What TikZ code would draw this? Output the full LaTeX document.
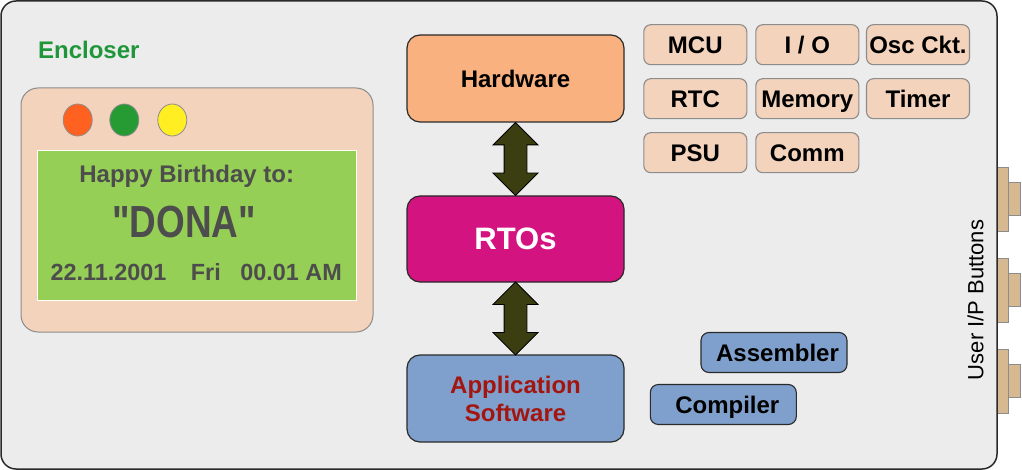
\documentclass[tikz,border=0pt]{standalone}
\usepackage{fontspec}
\setmainfont{Liberation Sans}
\newfontfamily\plainsans{Liberation Sans}
\usepackage{graphicx}
\usetikzlibrary{shapes.geometric,shapes.arrows,calc}
\definecolor{bgc}{HTML}{ECECEC}
\definecolor{peach}{HTML}{F3D3BC}
\definecolor{hwc}{HTML}{F9B17F}
\definecolor{rtc}{HTML}{D3137F}
\definecolor{appc}{HTML}{7FA0CC}
\definecolor{arrc}{HTML}{3B3E10}
\definecolor{apptxt}{HTML}{A3150F}
\definecolor{encg}{HTML}{1F963A}
\definecolor{lcdc}{HTML}{96CF55}
\definecolor{ledo}{HTML}{FF6120}
\definecolor{ledg}{HTML}{269B34}
\definecolor{ledy}{HTML}{FFEE22}
\definecolor{btnc}{HTML}{D6B990}
\definecolor{txtg}{HTML}{4D4D4D}
\definecolor{edge}{HTML}{2A2A2A}
\definecolor{gedge}{HTML}{8C8C8C}
\begin{document}
\begin{tikzpicture}[x=1pt,y=-1pt,
  bigfont/.style={font=\fontsize{24}{28}\selectfont\bfseries},
  mainbox/.style={draw=edge, line width=1.2pt, rounded corners=13pt, minimum width=217pt, minimum height=87pt, inner sep=0pt, bigfont},
  partbox/.style={draw=gedge, line width=1.1pt, fill=peach, rounded corners=7pt, minimum width=103pt, minimum height=40pt, inner sep=0pt, bigfont, text height=17.2pt, text depth=0pt},
  toolbox/.style={draw=edge, line width=1.1pt, fill=appc, rounded corners=8pt, minimum height=40pt, inner sep=0pt, bigfont, text height=17.2pt, text depth=0pt},
  blockarrow/.style={double arrow, draw=black, line width=0.8pt, fill=arrc, rotate=90, inner sep=11pt, double arrow head extend=11pt, minimum height=73pt},
  led/.style={ellipse, draw=gedge, line width=0.8pt, minimum width=29pt, minimum height=32pt, inner sep=0pt},
  btnbig/.style={draw=gedge, line width=0.9pt, fill=btnc, minimum width=10.7pt, minimum height=64pt, inner sep=0pt},
  btnsmall/.style={draw=gedge, line width=0.9pt, fill=btnc, minimum width=12pt, minimum height=33.4pt, inner sep=0pt}
]
\useasboundingbox (0,0) rectangle (1022,470);

% user input buttons
\foreach \i/\yy in {1/199,2/290,3/381}{
  \node[btnsmall] (bs\i) at (1014,\yy) {};
  \node[btnbig] (bb\i) at (1002.7,\yy) {};
}

% outer enclosure
\node[draw=edge, line width=1.5pt, fill=bgc, rounded corners=15pt, minimum width=996pt, minimum height=468pt, inner sep=0pt] (outer) at (499,235) {};

\node[anchor=base, inner sep=0pt, bigfont, text=encg] (enc) at (88.8,58.3) {Encloser};

% display unit
\node[draw=gedge, line width=1pt, fill=peach, rounded corners=17pt, minimum width=352pt, minimum height=244pt, inner sep=0pt] (disp) at (197,210) {};
\node[led, fill=ledo] (l1) at (77.7,120) {};
\node[led, fill=ledg] (l2) at (124.3,120) {};
\node[led, fill=ledy] (l3) at (172.3,120) {};
\node[draw=white, line width=1.5pt, fill=lcdc, minimum width=318.6pt, minimum height=150pt, inner sep=0pt] (lcd) at (197,225.3) {};
\node[anchor=base, inner sep=0pt, text=txtg, font=\fontsize{24}{28}\selectfont\bfseries] (happy) at (186.7,182.3) {Happy Birthday to:};
\node[anchor=base, inner sep=0pt, text=txtg] (name) at (184,237.3) {\scalebox{0.82}[1]{\plainsans\fontsize{45}{50}\selectfont\bfseries "DONA"}};
\node[anchor=base west, inner sep=0pt, text=txtg, font=\fontsize{23.4}{28}\selectfont\bfseries] (date) at (50.4,280) {22.11.2001\hspace{24.5pt}Fri\hspace{19.5pt}00.01 AM};

% stack
\node[mainbox, fill=hwc] (hw) at (515.5,78.5) {Hardware};
\node[mainbox, fill=rtc, text=white, font=\fontsize{31}{36}\selectfont\bfseries, minimum height=86pt] (rt) at (515.5,239) {RTOs};
\node[mainbox, fill=appc, text=apptxt, align=center] (app) at (515.5,398.5) {Application\\Software};

\node[blockarrow] (a1) at ($(hw.south)!0.5!(rt.north)$) {};
\node[blockarrow] (a2) at ($(rt.south)!0.5!(app.north)$) {};

% hardware parts
\node[partbox] (mcu) at (695.3,44.7) {MCU};
\node[partbox] (io) at (807.3,44.7) {I / O\hspace{7pt}};
\node[partbox] (osc) at (918,44.7) {Osc Ckt.};
\node[partbox] (rtc) at (695.3,98.7) {RTC};
\node[partbox] (mem) at (807.3,98.7) {Memory};
\node[partbox] (tim) at (918,98.7) {Timer};
\node[partbox] (psu) at (695.3,152.7) {PSU};
\node[partbox] (comm) at (807.3,152.7) {Comm};

% tools
\node[toolbox, minimum width=146pt] (asm) at (774,352.5) {\hspace{7pt}Assembler};
\node[toolbox, minimum width=146pt] (cmp) at (723.3,404.5) {\hspace{8pt}Compiler};

\node[rotate=90, inner sep=0pt, font=\fontsize{22}{26}\selectfont] (ui) at (975.5,300) {User I/P Buttons};
\end{tikzpicture}
\end{document}
